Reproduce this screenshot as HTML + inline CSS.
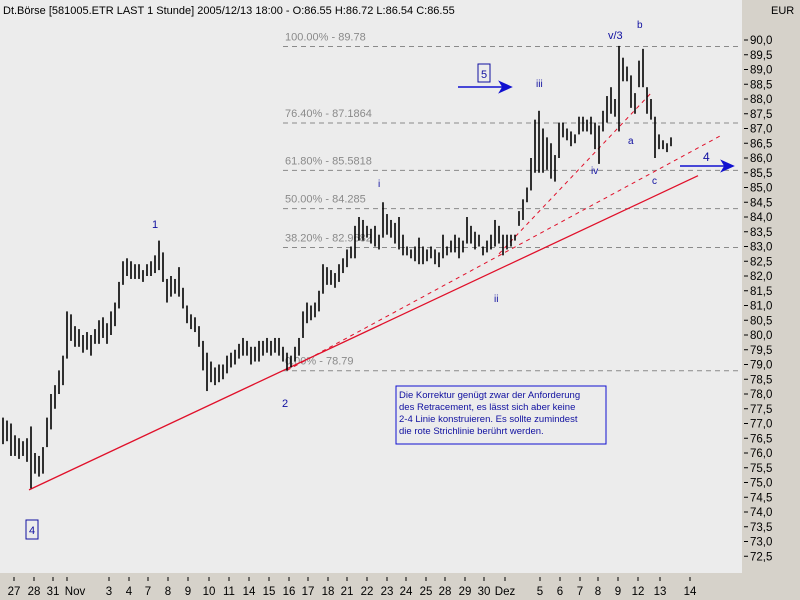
<!DOCTYPE html>
<html><head><meta charset="utf-8"><style>
body{margin:0;width:800px;height:600px;overflow:hidden;background:#d6d2ca;font-family:"Liberation Sans",sans-serif}
svg{display:block}
</style></head><body>
<svg id="chart" width="800" height="600">
<rect x="0" y="0" width="800" height="600" fill="#d6d2ca"/>
<rect x="0" y="0" width="742" height="573" fill="#ececec"/>
<g id="fib"></g>
<g id="trend"></g>
<g id="bars"></g>
<g id="yaxis"></g>
<g id="xaxis"></g>
<text x="3" y="14" font-size="11" fill="#000">Dt.Börse [581005.ETR LAST 1 Stunde] 2005/12/13 18:00 - O:86.55 H:86.72 L:86.54 C:86.55</text>
<text x="771" y="14" font-size="11" fill="#000">EUR</text>
<g font-size="11" fill="#1010a0">
<text x="608" y="39">v/3</text>
<text x="637" y="28" font-size="10">b</text>
<text x="536" y="87" font-size="10">iii</text>
<text x="378" y="187" font-size="10">i</text>
<text x="152" y="228">1</text>
<text x="282" y="407">2</text>
<text x="494" y="302" font-size="10">ii</text>
<text x="591" y="174" font-size="10">iv</text>
<text x="628" y="144" font-size="10">a</text>
<text x="652" y="184" font-size="10">c</text>
<text x="703" y="161" font-size="12">4</text>
<rect x="478" y="64" width="12" height="18" fill="none" stroke="#1010a0"/>
<text x="481" y="78">5</text>
<rect x="26" y="520" width="12" height="19" fill="none" stroke="#1010a0"/>
<text x="29" y="534">4</text>
</g>
<g stroke="#1010d0" stroke-width="1.5" fill="#1010d0">
<line x1="458" y1="87" x2="506" y2="87"/>
<path d="M500,82 L511,87 L500,92 L503,87Z"/>
<line x1="680" y1="166" x2="728" y2="166"/>
<path d="M722,161 L733,166 L722,171 L725,166Z"/>
</g>
<rect x="396" y="386" width="210" height="58" fill="#ececec" stroke="#1010d0"/>
<g font-size="9.5" fill="#1010a0">
<text x="399" y="398">Die Korrektur genügt zwar der Anforderung</text>
<text x="399" y="410">des Retracement, es lässt sich aber keine</text>
<text x="399" y="422">2-4 Linie konstruieren. Es sollte zumindest</text>
<text x="399" y="434">die rote Strichlinie berührt werden.</text>
</g>
</svg>
<script>
const highs=[77.2,77.1,77.0,76.6,76.5,76.4,76.5,76.9,76.0,75.9,76.2,77.2,78.0,78.3,78.8,79.3,80.8,80.7,80.3,80.2,80.0,80.1,80.0,80.2,80.5,80.6,80.4,80.8,81.1,81.8,82.5,82.6,82.5,82.4,82.4,82.2,82.4,82.5,82.7,83.2,82.8,81.9,82.0,81.9,82.3,81.6,81.0,80.7,80.6,80.3,79.8,79.4,79.1,78.9,79.0,79.0,79.3,79.4,79.5,79.7,79.9,79.8,79.6,79.6,79.8,79.8,79.9,79.8,79.9,79.9,79.6,79.4,79.3,79.6,79.9,80.8,81.1,81.0,81.1,81.5,82.4,82.3,82.2,82.1,82.4,82.6,82.9,83.0,83.7,84.0,83.9,83.7,83.6,83.7,83.4,84.5,84.1,83.9,83.8,84.0,83.4,83.0,82.9,83.0,83.3,83.0,82.9,83.0,82.9,82.8,83.4,83.0,83.2,83.4,83.3,83.2,84.0,83.7,83.5,83.4,83.0,83.2,83.4,83.9,83.7,83.4,83.4,83.4,83.4,84.2,84.6,85.0,86.0,87.3,87.6,87.0,86.7,86.5,86.1,87.2,87.2,87.0,86.9,86.8,87.4,87.4,87.3,87.4,87.2,87.1,87.6,88.1,88.4,88.0,89.8,89.4,89.1,88.8,88.2,89.3,89.7,88.4,88.0,87.4,86.8,86.6,86.5,86.7];
const lows=[76.3,76.4,75.9,75.9,75.8,75.9,75.7,74.8,75.3,75.2,75.3,76.2,76.8,77.5,78.0,78.3,79.2,79.8,79.6,79.6,79.4,79.5,79.3,79.7,79.7,79.9,79.7,80.0,80.3,80.9,81.7,82.0,81.9,81.9,81.9,81.8,82.0,82.0,82.1,82.2,81.8,81.1,81.3,81.4,81.3,80.9,80.4,80.2,80.1,79.6,78.8,78.1,78.4,78.3,78.4,78.5,78.7,78.9,79.0,79.2,79.3,79.3,79.0,79.1,79.1,79.3,79.4,79.3,79.4,79.3,79.1,78.8,78.9,79.1,79.3,79.9,80.4,80.5,80.6,80.8,81.4,81.7,81.7,81.6,81.8,82.1,82.3,82.6,82.6,83.2,83.2,83.3,83.1,83.0,82.9,83.3,83.4,83.3,83.1,82.9,82.7,82.7,82.6,82.5,82.4,82.4,82.5,82.6,82.4,82.3,82.6,82.7,82.8,82.8,82.6,82.8,83.1,83.1,82.9,83.0,82.7,82.8,82.9,83.0,83.1,82.7,82.9,83.0,83.2,83.7,83.9,84.5,84.9,85.5,85.5,85.5,85.6,85.3,85.2,86.0,86.7,86.6,86.4,86.5,86.8,86.9,86.9,86.8,86.3,85.8,86.9,87.2,87.5,87.4,86.9,88.6,88.6,87.7,87.5,88.4,88.4,87.5,87.3,86.0,86.3,86.3,86.2,86.4];
const fibLevels=[89.78,87.1864,85.5818,84.285,82.9682,78.79];
const fibLabels=["100.00% - 89.78","76.40% - 87.1864","61.80% - 85.5818","50.00% - 84.285","38.20% - 82.9682","0.00% - 78.79"];
const yTicks=[90,89.5,89,88.5,88,87.5,87,86.5,86,85.5,85,84.5,84,83.5,83,82.5,82,81.5,81,80.5,80,79.5,79,78.5,78,77.5,77,76.5,76,75.5,75,74.5,74,73.5,73,72.5];
const xLabels=["27","28","31","Nov","3","4","7","8","9","10","11","14","15","16","17","18","21","22","23","24","25","28","29","30","Dez","5","6","7","8","9","12","13","14"];
const xLabelBars=[2.75,7.75,12.5,18,26.5,31.5,36.25,41.25,46.25,51.5,56.5,61.5,66.5,71.5,76.25,81.25,86,91,96,100.75,105.75,110.5,115.5,120.25,125.5,134.25,139.25,144.25,148.75,153.75,158.75,164.25,171.75];
const solidLine=[[6.5,74.75],[173.75,85.4]];
const dashLine1=[[71,78.8],[180,86.8]];
const dashLine2=[[124,82.75],[162,88.2]];

const NS="http://www.w3.org/2000/svg";
const xs=i=>3+4*i;
const ys=p=>40+(90-p)*29.5;
function mk(tag,attrs,parent){const e=document.createElementNS(NS,tag);for(const k in attrs)e.setAttribute(k,attrs[k]);parent.appendChild(e);return e;}
const bars=document.getElementById('bars');
highs.forEach((h,i)=>{
 const l=mk('line',{x1:xs(i),x2:xs(i),y1:ys(h),y2:ys(lows[i]),stroke:'#000','stroke-width':1.6},bars);
 
 
});
const fib=document.getElementById('fib');
fibLevels.forEach((v,i)=>{
 const l=mk('line',{x1:283,x2:742,y1:ys(v),y2:ys(v),stroke:'#8a8a8a','stroke-dasharray':'5,4'},fib);
 
 
 const t=mk('text',{x:285,y:ys(v)-6,'font-size':11,fill:'#8a8a8a'},fib);
 t.textContent=fibLabels[i];
 
 
});
const trend=document.getElementById('trend');
function tl(pts,dash,name){
 const l=mk('line',{x1:xs(pts[0][0]),y1:ys(pts[0][1]),x2:xs(pts[1][0]),y2:ys(pts[1][1]),stroke:'#e0102a','stroke-width':dash?1:1.3},trend);
 if(dash)l.setAttribute('stroke-dasharray','4,4');
 
 
}
tl(solidLine,false,'trend-line-solid');
tl(dashLine1,true,'trend-line-dashed-1');
tl(dashLine2,true,'trend-line-dashed-2');
const ya=document.getElementById('yaxis');
yTicks.forEach(v=>{
 const y=ys(v);
 const l=mk('line',{x1:744,x2:748,y1:y,y2:y,stroke:'#000'},ya);
 
 
 const t=mk('text',{x:750,y:y+4,'font-size':11.5,fill:'#000'},ya);
 t.textContent=v.toFixed(1).replace('.',',');
 
 
});
const xa=document.getElementById('xaxis');
xLabels.forEach((s,i)=>{
 const x=xs(xLabelBars[i]);
 const l=mk('line',{x1:s==="Nov"?x-8:x,x2:s==="Nov"?x-8:x,y1:577,y2:581,stroke:'#000'},xa);
 
 
 const t=mk('text',{x:x,y:595,'font-size':11.5,fill:'#000','text-anchor':'middle'},xa);
 t.textContent=s;
 
 
});
</script>
</body></html>
